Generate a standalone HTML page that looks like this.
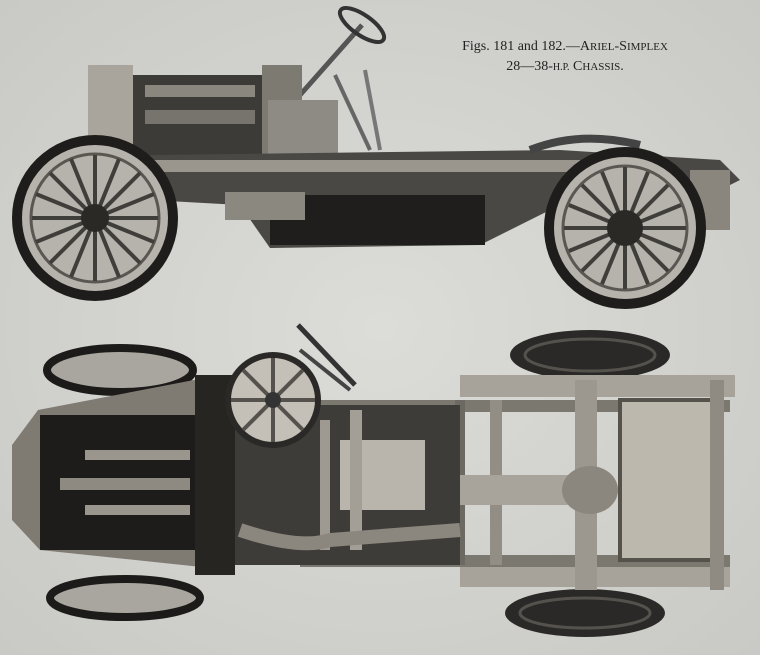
<!DOCTYPE html>
<html><head><meta charset="utf-8"><style>
html,body{margin:0;padding:0;background:#d6d6d2;}
.cap{position:absolute;font-family:"Liberation Serif",serif;color:#222;font-size:14px;text-align:center;line-height:20px}
</style></head><body>
<div style="position:relative;width:760px;height:655px;overflow:hidden;background:#d6d6d2">
<svg width="760" height="655" style="position:absolute;left:0;top:0">
<defs>
<radialGradient id="bg" cx="50%" cy="50%" r="70%"><stop offset="0" stop-color="#dcdcd8"/><stop offset="1" stop-color="#c9c9c5"/></radialGradient>
</defs>
<rect width="760" height="655" fill="url(#bg)"/>
<!-- TOP SIDE VIEW -->
<!-- steering column -->
<line x1="300" y1="95" x2="362" y2="25" stroke="#555" stroke-width="5"/>
<ellipse cx="362" cy="25" rx="26" ry="10" fill="none" stroke="#333" stroke-width="4" transform="rotate(35 362 25)"/>
<line x1="335" y1="75" x2="370" y2="150" stroke="#666" stroke-width="4"/>
<line x1="365" y1="70" x2="380" y2="150" stroke="#777" stroke-width="4"/>
<!-- engine -->
<rect x="88" y="65" width="45" height="90" fill="#a9a59c"/>
<rect x="133" y="75" width="135" height="85" fill="#3d3b37"/>
<rect x="145" y="85" width="110" height="12" fill="#8a877f"/>
<rect x="145" y="110" width="110" height="14" fill="#77746d"/>
<rect x="262" y="65" width="40" height="100" fill="#7d7a72"/>
<rect x="268" y="100" width="70" height="60" fill="#8e8b84"/>
<!-- frame body -->
<polygon points="150,155 560,150 720,160 740,180 720,190 560,205 480,245 270,248 240,205 150,200" fill="#4a4844"/>
<rect x="140" y="160" width="440" height="12" fill="#9a968e"/>
<rect x="270" y="195" width="215" height="50" fill="#1f1e1c"/>
<rect x="225" y="192" width="80" height="28" fill="#8b8880"/>
<rect x="690" y="170" width="40" height="60" fill="#8a867e"/>
<path d="M530,150 Q580,130 640,145" stroke="#444" stroke-width="8" fill="none"/>
<!-- front wheel -->
<circle cx="95" cy="218" r="78" fill="#b6b3ac" stroke="#1e1d1b" stroke-width="10"/>
<circle cx="95" cy="218" r="64" fill="none" stroke="#5a5752" stroke-width="3"/>
<g stroke="#403e3a" stroke-width="4">
<line x1="95" y1="155" x2="95" y2="281"/><line x1="32" y1="218" x2="158" y2="218"/>
<line x1="50" y1="173" x2="140" y2="263"/><line x1="140" y1="173" x2="50" y2="263"/>
<line x1="71" y1="159" x2="119" y2="277"/><line x1="119" y1="159" x2="71" y2="277"/>
<line x1="36" y1="194" x2="154" y2="242"/><line x1="36" y1="242" x2="154" y2="194"/>
</g>
<circle cx="95" cy="218" r="14" fill="#2a2926"/>
<!-- rear wheel -->
<circle cx="625" cy="228" r="76" fill="#b6b3ac" stroke="#1e1d1b" stroke-width="10"/>
<circle cx="625" cy="228" r="62" fill="none" stroke="#5a5752" stroke-width="3"/>
<g stroke="#403e3a" stroke-width="4">
<line x1="625" y1="167" x2="625" y2="289"/><line x1="564" y1="228" x2="686" y2="228"/>
<line x1="582" y1="185" x2="668" y2="271"/><line x1="668" y1="185" x2="582" y2="271"/>
<line x1="602" y1="172" x2="648" y2="284"/><line x1="648" y1="172" x2="602" y2="284"/>
<line x1="569" y1="205" x2="681" y2="251"/><line x1="569" y1="251" x2="681" y2="205"/>
</g>
<circle cx="625" cy="228" r="18" fill="#2a2926"/>

<!-- BOTTOM PLAN VIEW -->
<line x1="298" y1="325" x2="355" y2="385" stroke="#333" stroke-width="5"/>
<line x1="300" y1="350" x2="350" y2="390" stroke="#444" stroke-width="4"/>
<!-- wheels -->
<ellipse cx="120" cy="370" rx="73" ry="22" fill="#a9a69f" stroke="#1c1b19" stroke-width="8"/>
<ellipse cx="125" cy="598" rx="75" ry="19" fill="#a9a69f" stroke="#1c1b19" stroke-width="8"/>
<ellipse cx="590" cy="355" rx="80" ry="25" fill="#2a2927" />
<ellipse cx="590" cy="355" rx="65" ry="16" fill="none" stroke="#55524d" stroke-width="3"/>
<ellipse cx="585" cy="613" rx="80" ry="24" fill="#2a2927"/>
<ellipse cx="585" cy="613" rx="65" ry="15" fill="none" stroke="#55524d" stroke-width="3"/>
<!-- frame -->
<rect x="460" y="375" width="275" height="22" fill="#a7a39b"/>
<rect x="460" y="565" width="270" height="22" fill="#a7a39b"/>
<rect x="300" y="400" width="430" height="12" fill="#7b7870"/>
<rect x="300" y="555" width="430" height="12" fill="#7b7870"/>
<rect x="620" y="400" width="95" height="160" fill="#bdb8ae" stroke="#55524c" stroke-width="4"/>
<rect x="710" y="380" width="14" height="210" fill="#8f8b83"/>
<rect x="490" y="400" width="12" height="165" fill="#928e86"/>
<rect x="455" y="400" width="10" height="165" fill="#6c6962"/>
<!-- middle dark region -->
<rect x="230" y="405" width="230" height="160" fill="#3e3c38"/>
<rect x="340" y="440" width="85" height="70" fill="#b9b5ac"/>
<rect x="320" y="420" width="10" height="130" fill="#9e9a92"/>
<rect x="350" y="410" width="12" height="140" fill="#a39f97"/>
<path d="M240,530 Q300,550 330,540 L460,530" stroke="#8b877f" stroke-width="14" fill="none"/>
<!-- propshaft & axle -->
<rect x="460" y="475" width="140" height="30" fill="#a8a49b"/>
<rect x="575" y="380" width="22" height="210" fill="#9c988f"/>
<ellipse cx="590" cy="490" rx="28" ry="24" fill="#8b877e"/>
<!-- engine front -->
<polygon points="12,445 38,410 220,375 230,570 40,550 12,520" fill="#7f7b73"/>
<rect x="40" y="415" width="160" height="135" fill="#1d1c1a"/>
<rect x="195" y="375" width="40" height="200" fill="#262522"/>
<rect x="85" y="450" width="105" height="10" fill="#9a968e"/>
<rect x="60" y="478" width="130" height="12" fill="#8e8a82"/>
<rect x="85" y="505" width="105" height="10" fill="#9a968e"/>
<!-- steering wheel -->
<circle cx="273" cy="400" r="45" fill="#c4c0b8" stroke="#2a2927" stroke-width="6"/>
<g stroke="#55524d" stroke-width="4"><line x1="273" y1="358" x2="273" y2="442"/><line x1="231" y1="400" x2="315" y2="400"/><line x1="243" y1="370" x2="303" y2="430"/><line x1="303" y1="370" x2="243" y2="430"/></g>
<circle cx="273" cy="400" r="8" fill="#333"/>
</svg>
<div class="cap" style="left:440px;top:37px;width:250px">Figs. 181 and 182.—A<span style="font-size:11px">RIEL</span>-S<span style="font-size:11px">IMPLEX</span><br>28—38-<span style="font-size:10px">H.P.</span> C<span style="font-size:11px">HASSIS</span>.</div>
</div>
</body></html>
